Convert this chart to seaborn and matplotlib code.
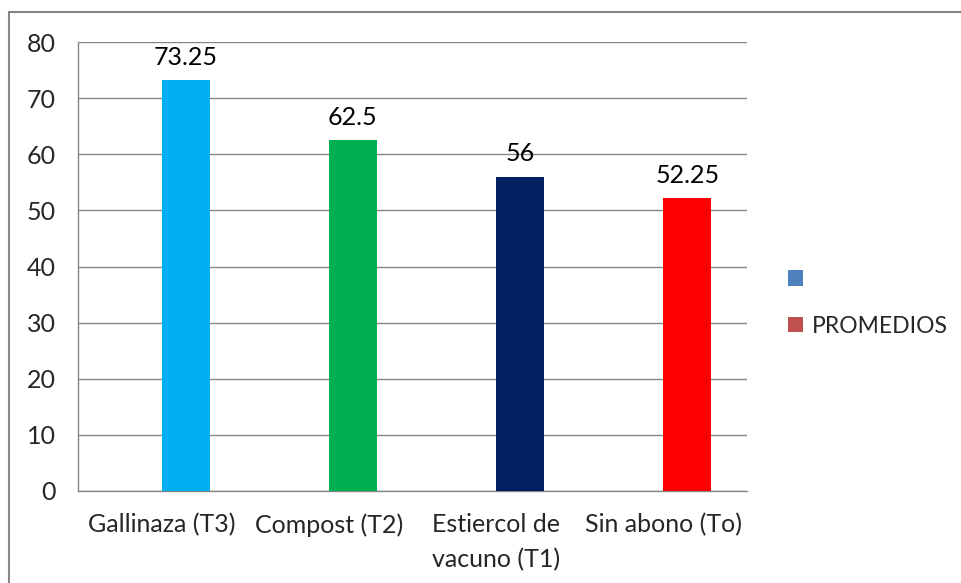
import matplotlib

matplotlib.use("Agg")
import matplotlib.pyplot as plt
import numpy as np
import pandas as pd
import seaborn as sns
from matplotlib.lines import Line2D
from matplotlib.patches import Patch

# data
categories = ["Gallinaza (T3)", "Compost (T2)", "Estiercol de\nvacuno (T1)", "Sin abono (To)"]
promedios = [73.25, 62.5, 56, 52.25]
value_labels = ["73.25", "62.5", "56", "52.25"]
bar_colors = ["#00B0F0", "#00B050", "#002060", "#FF0000"]
series_names = [" ", "PROMEDIOS"]
legend_colors = ["#4F81BD", "#C0504D"]
y_ticks = [0, 10, 20, 30, 40, 50, 60, 70, 80]

FS = 18

sns.set_style("white")
plt.rcParams["font.family"] = ["Lato", "DejaVu Sans"]

df = pd.DataFrame({
    "cat": categories * 2,
    "serie": [series_names[0]] * 4 + [series_names[1]] * 4,
    "val": [np.nan] * 4 + promedios,
})

fig = plt.figure(figsize=(9.61, 5.83), dpi=100)
ax = fig.add_axes([78 / 961, 1 - 491 / 583, (747 - 78) / 961, (491 - 42) / 583])

sns.barplot(data=df, x="cat", y="val", hue="serie", hue_order=series_names,
            order=categories, width=0.574, palette=legend_colors,
            legend=False, ax=ax, zorder=3)

# recolor the PROMEDIOS bars per category
bars = [p for p in ax.patches if np.isfinite(p.get_height()) and p.get_height() > 0]
bars.sort(key=lambda p: p.get_x())
for bar, col, lab in zip(bars, bar_colors, value_labels):
    bar.set_facecolor(col)
    bar.set_edgecolor("none")
    ax.text(bar.get_x() + bar.get_width() / 2, bar.get_height() + 2.0, lab,
            ha="center", va="bottom", fontsize=FS, color="black")

ax.set_xlim(-0.5, 3.5)
ax.set_ylim(0, 80)
ax.set_yticks(y_ticks)
ax.yaxis.grid(True, color="#868686", lw=1, zorder=0)
ax.set_axisbelow(True)
ax.set_xlabel("")
ax.set_ylabel("")
for side in ["top", "right"]:
    ax.spines[side].set_visible(False)
for side in ["left", "bottom"]:
    ax.spines[side].set_color("#868686")
    ax.spines[side].set_linewidth(1)

ax.tick_params(axis="y", length=8, width=1, color="#868686", labelsize=FS, pad=8, direction="out")
ax.tick_params(axis="x", length=0, labelsize=FS, pad=16)
for t in ax.get_xticklabels():
    t.set_linespacing(1.6)
# category separator ticks
ax.set_xticks([-0.5, 0.5, 1.5, 2.5, 3.5], minor=True)
ax.tick_params(axis="x", which="minor", length=8, width=1, color="#868686")

handles = [Patch(facecolor=c, edgecolor="none") for c in legend_colors]
fig.legend(handles, ["", "PROMEDIOS"], loc="center left", bbox_to_anchor=(788 / 961, 1 - 303 / 583),
           frameon=False, fontsize=16.5, handlelength=0.65, handleheight=0.65,
           handletextpad=0.4, labelspacing=1.12, borderpad=0, borderaxespad=0)

# outer chart frame (left and top edges visible)
fig.add_artist(Line2D([9 / 961, 9 / 961], [0, 1 - 12 / 583], transform=fig.transFigure, color="#868686", lw=1.5))
fig.add_artist(Line2D([9 / 961, 1], [1 - 12 / 583, 1 - 12 / 583], transform=fig.transFigure, color="#868686", lw=1.5))

fig.savefig("out.png", dpi=100)
